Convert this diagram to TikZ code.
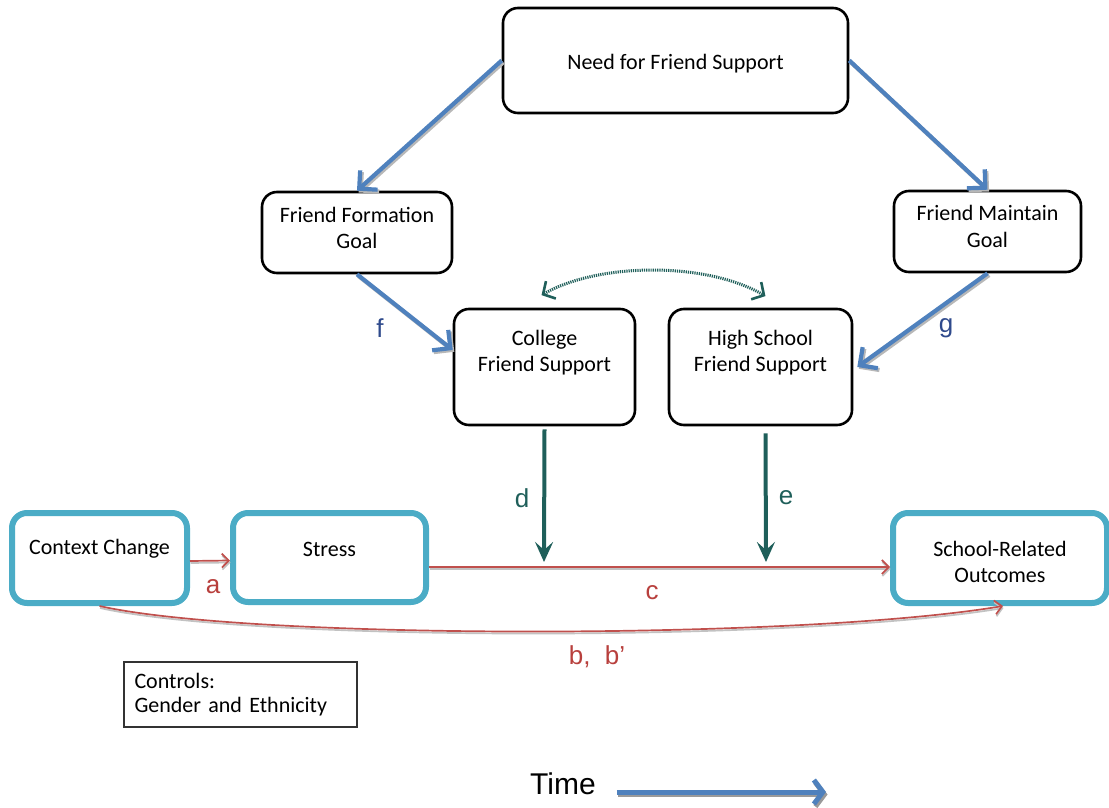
\documentclass[tikz,border=0pt]{standalone}
\usepackage{fontspec}
\setmainfont{Carlito}
\newfontfamily\arialf{Liberation Sans}
\usetikzlibrary{arrows.meta}
\definecolor{oblue}{HTML}{4F81BD}
\definecolor{ocyan}{HTML}{4BACC6}
\definecolor{oteal}{HTML}{1F5F5A}
\definecolor{ored}{HTML}{C0504D}
\definecolor{lblue}{HTML}{2F4A8C}
\definecolor{lred}{HTML}{B8403D}
\definecolor{shade}{HTML}{9A9A9A}
\begin{document}
\begin{tikzpicture}[x=1pt,y=-1pt,
  txt/.style={font=\fontsize{22}{26.5}\selectfont, align=center, inner sep=0pt},
  blackbox/.style={draw=black, line width=2.6pt, rounded corners=15pt, fill=white},
  cyanbox/.style={draw=ocyan, line width=6pt, rounded corners=15pt, fill=white},
  ctrlbox/.style={draw=black!80, line width=1.3pt, fill=white, align=left,
    font=\fontsize{22}{24.5}\selectfont, text width=212pt, inner xsep=10.5pt,
    minimum width=233pt, minimum height=65pt},
  lab/.style={font=\arialf\fontsize{26}{28}\selectfont, inner sep=0pt},
  bluearr/.style={draw=oblue, line width=4.2pt,
    -{Straight Barb[length=13pt, width=26pt, line width=4.2pt]},
    preaction={draw=shade!70, line width=4.2pt, transform canvas={shift={(1.6pt,-1.8pt)}}}},
  tealarr/.style={draw=oteal, line width=4pt,
    -{Stealth[length=20pt, width=18pt, inset=8pt]}},
  redarr/.style={draw=ored, line width=1.7pt,
    -{Straight Barb[length=7pt, width=14pt, line width=1.7pt]},
    preaction={draw=shade!60, line width=1.7pt, transform canvas={shift={(0.5pt,-2pt)}}}},
  dotarr/.style={draw=oteal, line width=3pt, dash pattern=on 1.2pt off 1pt,
    {Straight Barb[length=9pt, width=20pt, line width=2.6pt, sep]}-{Straight Barb[length=9pt, width=20pt, line width=2.6pt, sep]}}
]
\useasboundingbox (0,0) rectangle (1109,808);

% top-level need
\node[blackbox, minimum width=345pt, minimum height=105pt] (need) at (675.5,60.5) {};
\node[txt] (needT) at (675.5,64) {Need for Friend Support};

% goals
\node[blackbox, minimum width=190pt, minimum height=81pt] (ffg) at (357,232.5) {};
\node[txt] (ffgT) at (357,228) {Friend Formation\\Goal};
\node[blackbox, minimum width=187pt, minimum height=81pt] (fmg) at (987.5,231.5) {};
\node[txt] (fmgT) at (987.5,226.5) {Friend Maintain\\Goal};

% friend support
\node[blackbox, minimum width=181pt, minimum height=116pt] (col) at (544.5,367) {};
\node[txt] (colT) at (544.5,352.5) {College\\Friend Support};
\node[blackbox, minimum width=183pt, minimum height=116pt] (hs) at (760.5,367) {};
\node[txt] (hsT) at (760.5,352.5) {High School\\Friend Support};

% outcome chain
\node[cyanbox, minimum width=175pt, minimum height=90pt] (cc) at (99.5,558) {};
\node[txt] (ccT) at (99.5,549) {Context Change};
\node[cyanbox, minimum width=193pt, minimum height=89pt] (st) at (329.5,557.5) {};
\node[txt] (stT) at (329.5,549) {Stress};
\node[cyanbox, minimum width=214pt, minimum height=90pt] (so) at (1000,558) {};
\node[txt] (soT) at (1000,562) {School-Related\\Outcomes};

% controls
\node[ctrlbox] (ctrl) at (240.5,694.5) {Controls:\\Gender and Ethnicity};

% blue paths
\draw[bluearr] (need.west) -- (ffg.north);
\draw[bluearr] (need.east) -- (fmg.north);
\draw[bluearr] (ffg.south) -- ([yshift=17pt]col.west);
\draw[bluearr] (fmg.south) -- ([xshift=4pt]hs.east);
\node[lab, text=lblue] (fl) at (380,328) {f};
\node[lab, text=lblue] (gl) at (946,328) {g};

% mutual link between the two supports
\coordinate (dl) at (540,296);
\coordinate (dr) at (767,297);
\draw[dotarr] (dl) .. controls (600,262) and (707,262) .. (dr);

% moderating paths
\coordinate (cy) at (0,567);
\coordinate (dEnd) at (544,562);
\coordinate (eEnd) at (766,562);
\draw[tealarr] ([yshift=-3pt]col.south) -- (dEnd);
\draw[tealarr] ([xshift=5pt,yshift=-7pt]hs.south) -- (eEnd);
\node[lab, text=oteal] (dlab) at (522,498) {d};
\node[lab, text=oteal] (elab) at (786,498) {e};

% red paths
\draw[redarr] ([yshift=-3pt]cc.east) -- ([yshift=-3pt]st.west);
\draw[redarr] (st.east |- cy) -- (so.west |- cy);
\draw[redarr] (cc.south) .. controls (250,640) and (800,640) .. ([xshift=3pt]so.south);
\node[lab, text=lred] (alab) at (213,587) {a};
\node[lab, text=lred] (clab) at (652,593) {c};
\node[lab, text=lred] (blab) at (597,657) {b,\ \ b’};

% time axis
\node[font=\arialf\fontsize{30}{32}\selectfont, inner sep=0pt] (time) at (563,784) {Time};
\coordinate (tEnd) at (826,792);
\draw[draw=oblue, line width=5pt, -{Straight Barb[length=9pt, width=24pt, line width=5pt]},
  preaction={draw=shade, line width=5pt, transform canvas={shift={(1.5pt,-2.5pt)}}}]
  ([xshift=21pt,yshift=-8pt]time.east) -- (tEnd);
\end{tikzpicture}
\end{document}
